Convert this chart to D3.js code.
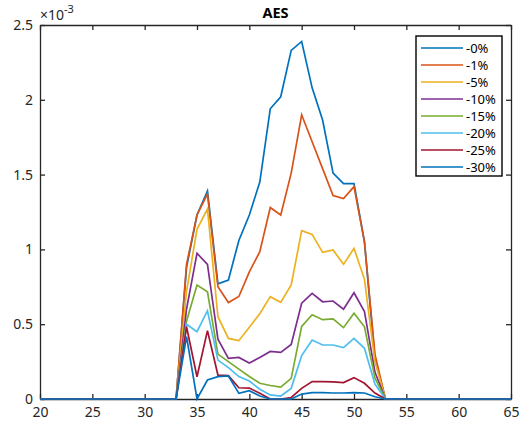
<!DOCTYPE html>
<html>
<head>
<meta charset="utf-8">
<script src="https://cdn.jsdelivr.net/npm/d3@7"></script>
<style>
  html, body { margin: 0; padding: 0; background: #fff; }
  svg { display: block; font-family: "Noto Sans", "Open Sans", sans-serif; }
</style>
</head>
<body>
<svg id="chart" width="519" height="427"></svg>
<script>
// x positions
const xValues = [20,21,22,23,24,25,26,27,28,29,30,31,32,33,34,35,36,37,38,39,40,41,42,43,44,45,46,47,48,49,50,51,52,53,54,55,56,57,58,59,60,61,62,63,64,65];
// series values (units of 1e-3)
const s0 = [0,0,0,0,0,0,0,0,0,0,0,0,0,0, 0.88,1.23,1.39,0.77,0.795,1.06,1.23,1.45,1.94,2.02,2.33,2.39,2.08,1.865,1.51,1.44,1.44,1.05,0.27, 0,0,0,0,0,0,0,0,0,0,0,0,0];
const s1 = [0,0,0,0,0,0,0,0,0,0,0,0,0,0, 0.90,1.23,1.37,0.75,0.645,0.685,0.85,0.985,1.28,1.23,1.51,1.90,1.72,1.54,1.36,1.34,1.42,1.05,0.30, 0,0,0,0,0,0,0,0,0,0,0,0,0];
const s2 = [0,0,0,0,0,0,0,0,0,0,0,0,0,0, 0.72,1.134,1.27,0.55,0.405,0.39,0.48,0.57,0.684,0.646,0.762,1.125,1.10,0.98,0.996,0.90,1.007,0.80,0.25, 0,0,0,0,0,0,0,0,0,0,0,0,0];
const s3 = [0,0,0,0,0,0,0,0,0,0,0,0,0,0, 0.60,0.974,0.90,0.40,0.272,0.278,0.24,0.278,0.318,0.312,0.364,0.64,0.706,0.65,0.655,0.60,0.71,0.584,0.18, 0,0,0,0,0,0,0,0,0,0,0,0,0];
const s4 = [0,0,0,0,0,0,0,0,0,0,0,0,0,0, 0.52,0.762,0.717,0.30,0.25,0.20,0.15,0.105,0.09,0.08,0.138,0.485,0.563,0.53,0.535,0.477,0.573,0.483,0.14, 0,0,0,0,0,0,0,0,0,0,0,0,0];
const s5 = [0,0,0,0,0,0,0,0,0,0,0,0,0,0, 0.50,0.45,0.59,0.26,0.21,0.15,0.12,0.065,0.027,0.02,0.071,0.29,0.394,0.361,0.361,0.343,0.405,0.339,0.10, 0,0,0,0,0,0,0,0,0,0,0,0,0];
const s6 = [0,0,0,0,0,0,0,0,0,0,0,0,0,0, 0.483,0.149,0.457,0.16,0.156,0.075,0.073,0.038,0,0,0.01,0.071,0.116,0.116,0.114,0.11,0.143,0.105,0.04, 0,0,0,0,0,0,0,0,0,0,0,0,0];
const s7 = [0,0,0,0,0,0,0,0,0,0,0,0,0,0, 0.417,0,0.127,0.149,0.154,0.038,0.056,0.02,0,0,0,0.033,0.042,0.042,0.04,0.04,0.042,0.04,0.015, 0,0,0,0,0,0,0,0,0,0,0,0,0];

const seriesNames = ["-0%","-1%","-5%","-10%","-15%","-20%","-25%","-30%"];
const seriesValues = [s0,s1,s2,s3,s4,s5,s6,s7];
const colors = ["#0072BD","#D95319","#EDB120","#7E2F8E","#77AC30","#4DBEEE","#A2142F","#0072BD"];
const xTicks = [20,25,30,35,40,45,50,55,60,65];
const yTicks = [0,0.5,1,1.5,2,2.5];
const yTickLabels = ["0","0.5","1","1.5","2","2.5"];

const W = 519, H = 427;
const L = 40, R = 511, T = 25, B = 399;
const svg = d3.select("#chart");
const x = d3.scaleLinear().domain([20,65]).range([L,R]);
const y = d3.scaleLinear().domain([0,2.5]).range([B,T]);
const axisColor = "#262626";

function styleAxis(g) {
  g.select(".domain").attr("stroke", axisColor).attr("stroke-width", 1.3);
  g.selectAll(".tick line").attr("stroke", axisColor).attr("stroke-width", 1.3);
  g.selectAll(".tick text").attr("fill", axisColor).style("font-size", "14px")
    .style("font-family", '"Noto Sans", "Open Sans", sans-serif');
}

// axes (bottom with labels, top without)
svg.append("g").attr("transform", `translate(0,${B})`)
  .call(d3.axisBottom(x).tickValues(xTicks).tickFormat(d3.format("d")).tickSizeInner(-5).tickSizeOuter(0).tickPadding(8))
  .call(styleAxis);
svg.append("g").attr("transform", `translate(0,${T})`)
  .call(d3.axisTop(x).tickValues(xTicks).tickFormat("").tickSizeInner(-5).tickSizeOuter(0))
  .call(styleAxis);
svg.append("g").attr("transform", `translate(${L},0)`)
  .call(d3.axisLeft(y).tickValues(yTicks).tickFormat((d,i) => yTickLabels[i]).tickSizeInner(-5).tickSizeOuter(0).tickPadding(7))
  .call(styleAxis);
svg.append("g").attr("transform", `translate(${R},0)`)
  .call(d3.axisRight(y).tickValues(yTicks).tickFormat("").tickSizeInner(-5).tickSizeOuter(0))
  .call(styleAxis);

// exponent label
const expo = svg.append("text").attr("x", L).attr("y", 20).attr("fill", axisColor)
  .style("font-size", "14px");
expo.append("tspan").text("\u00d710");
expo.append("tspan").attr("dy", -7).style("font-size", "11px").text("-3");

// title
svg.append("text").attr("x", (L+R)/2).attr("y", 18).attr("text-anchor", "middle")
  .attr("fill", "#000").style("font-size", "14.5px").style("font-weight", "bold").text("AES");

// lines
const line = d3.line().x((d,i) => x(xValues[i])).y(d => y(d));
seriesValues.forEach((vals, k) => {
  svg.append("path").datum(vals).attr("d", line)
    .attr("fill", "none").attr("stroke", colors[k]).attr("stroke-width", 1.7)
    .attr("stroke-linejoin", "miter");
});

// legend
const lg = svg.append("g");
const lx = 416, ly = 36, lw = 86, lh = 140;
lg.append("rect").attr("x", lx).attr("y", ly).attr("width", lw).attr("height", lh)
  .attr("fill", "#fff").attr("stroke", "#000").attr("stroke-width", 1.4);
seriesNames.forEach((name, k) => {
  const yy = 48 + k * 17;
  lg.append("line").attr("x1", 421).attr("x2", 463).attr("y1", yy).attr("y2", yy)
    .attr("stroke", colors[k]).attr("stroke-width", 1.6);
  lg.append("text").attr("x", 466).attr("y", yy + 5).attr("fill", "#000")
    .style("font-size", "13px").text(name);
});
</script>
</body>
</html>
